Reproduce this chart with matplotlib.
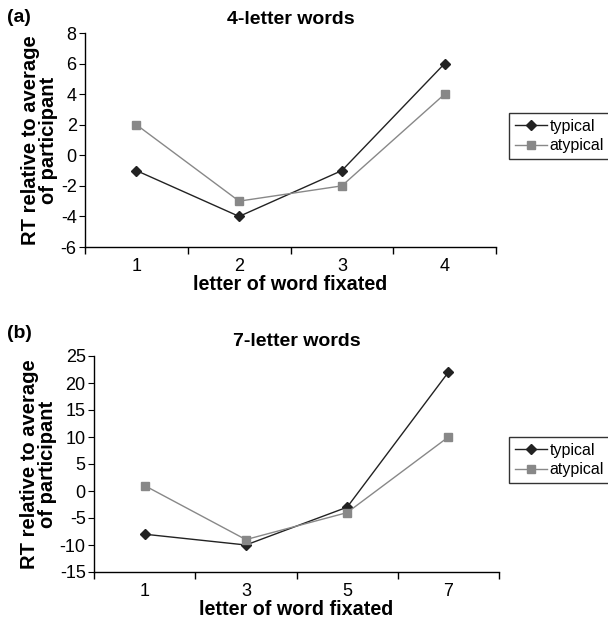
import matplotlib
matplotlib.use("Agg")
import matplotlib.pyplot as plt
from matplotlib.ticker import FixedLocator, NullFormatter

plt.rcParams['font.family'] = ['Liberation Sans', 'DejaVu Sans']
plt.rcParams['axes.unicode_minus'] = False

cats_a = ["1", "2", "3", "4"]
typical_a = [-1, -4, -1, 6]
atypical_a = [2, -3, -2, 4]

cats_b = ["1", "3", "5", "7"]
typical_b = [-8, -10, -3, 22]
atypical_b = [1, -9, -4, 10]

fig = plt.figure(figsize=(6.08, 6.2), dpi=100)

def panel(rect, cats, typ, atyp, ylim, yticks, title, tag, tagy, legy, titley):
    ax = fig.add_axes(rect)
    x = list(range(1, len(cats) + 1))
    h1, = ax.plot(x, typ, color='#222222', lw=1.0, marker='D', ms=5, mfc='#222222', mec='#222222', label='typical')
    h2, = ax.plot(x, atyp, color='#888888', lw=1.0, marker='s', ms=5.5, mfc='#888888', mec='#888888', label='atypical')
    ax.set_xlim(0.5, len(cats) + 0.5)
    ax.set_ylim(*ylim)
    ax.set_yticks(yticks)
    ax.set_xticks(x)
    ax.set_xticklabels(cats)
    ax.tick_params(axis='x', which='major', length=0, labelsize=13, pad=8)
    ax.xaxis.set_minor_locator(FixedLocator([i + 0.5 for i in range(0, len(cats) + 1)]))
    ax.xaxis.set_minor_formatter(NullFormatter())
    ax.tick_params(axis='x', which='minor', length=5, direction='out', width=1)
    ax.tick_params(axis='y', length=4, direction='out', labelsize=13, pad=2)
    for s in ['top', 'right']:
        ax.spines[s].set_visible(False)
    for s in ['left', 'bottom']:
        ax.spines[s].set_linewidth(1)
    ax.set_xlabel('letter of word fixated', fontsize=14.2, fontweight='bold', labelpad=0)
    ax.set_ylabel('RT relative to average\nof participant', fontsize=14.5, fontweight='bold', labelpad=2, linespacing=0.92)
    fig.text(rect[0] + rect[2] / 2, titley, title, fontsize=14, fontweight='bold', ha='center', va='center')
    fig.text(0.012, tagy, tag, fontsize=14, fontweight='bold', va='center')
    leg = fig.legend([h1, h2], ['typical', 'atypical'], loc='upper left', bbox_to_anchor=(509/608, legy), fontsize=11.5,
                     frameon=True, fancybox=False, edgecolor='black', handlelength=2.0,
                     handletextpad=0.2, borderpad=0.35, labelspacing=0.3, borderaxespad=0)
    leg.get_frame().set_linewidth(1)
    return ax

panel([85/608, 1-247/620, (496-85)/608, (247-33)/620], cats_a, typical_a, atypical_a,
      (-6, 8), list(range(-6, 9, 2)), '4-letter words', '(a)', 1-17/620, 1-113/620, 1-19/620)
panel([94/608, 1-572/620, (499-94)/608, (572-356)/620], cats_b, typical_b, atypical_b,
      (-15, 25), list(range(-15, 26, 5)), '7-letter words', '(b)', 1-334/620, 1-437/620, 1-341/620)

fig.savefig('out.png', dpi=100)
